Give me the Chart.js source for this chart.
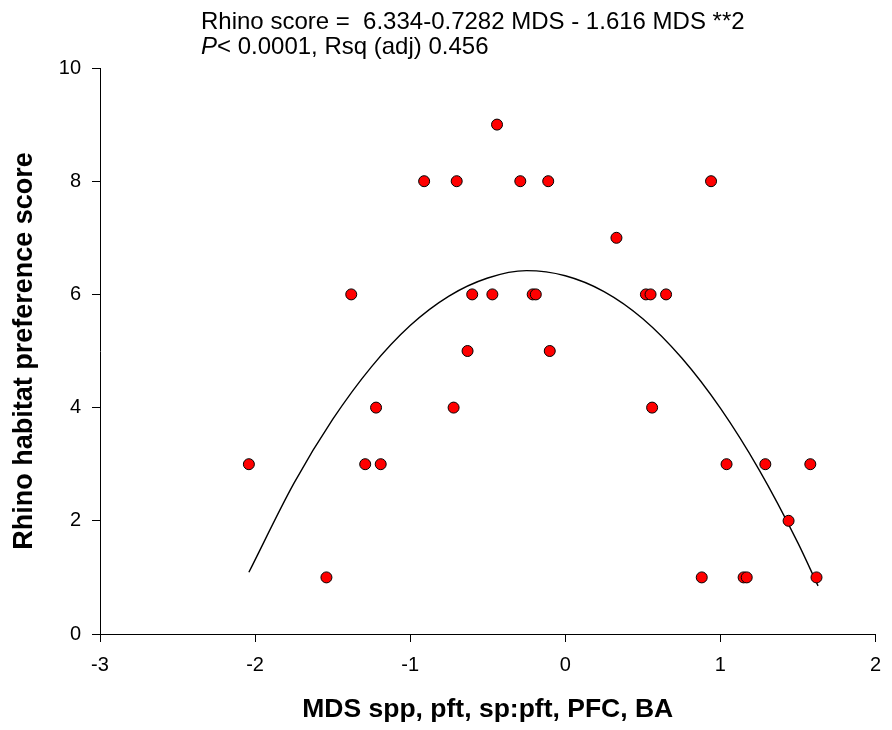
<!DOCTYPE html>
<html>
<head>
<meta charset="utf-8">
<script src="https://cdn.jsdelivr.net/npm/chart.js@4.4.1/dist/chart.umd.min.js"></script>
<style>
  body { margin: 0; background: #fff; }
</style>
</head>
<body>
<canvas id="myChart" width="892" height="730"></canvas>
<script>
// Observed plots: MDS score (x) and rhino habitat preference score (y)
let mdsScore = [-2.04, -1.54, -1.38, -1.29, -1.22, -1.19, -0.91, -0.72, -0.70, -0.63, -0.60,
                -0.47, -0.44, -0.29, -0.21, -0.19, -0.11, -0.10, 0.33, 0.52, 0.55, 0.56,
                0.65, 0.88, 0.94, 1.04, 1.15, 1.17, 1.29, 1.44, 1.58, 1.62];
let rhinoScore = [3, 1, 6, 3, 4, 3, 8, 4, 8, 5, 6,
                  6, 9, 8, 6, 6, 8, 5, 7, 6, 6, 4,
                  6, 1, 8, 3, 1, 1, 3, 2, 3, 1];

// Fitted curve
let curveX = [-2.04, -1.75, -1.5, -1.25, -1.0, -0.75, -0.5, -0.25, 0, 0.25, 0.5, 0.75, 1.0, 1.25, 1.5, 1.63];
let curveY = [1.09, 2.66, 3.79, 4.72, 5.45, 5.97, 6.29, 6.42, 6.33, 6.05, 5.57, 4.88, 3.99, 2.90, 1.61, 0.85];

// Axis ranges and titles
let xTicks = [-3, -2, -1, 0, 1, 2];
let yTicks = [0, 2, 4, 6, 8, 10];
let xTitle = 'MDS spp, pft, sp:pft, PFC, BA';
let yTitle = 'Rhino habitat preference score';

const FONT = '"Liberation Sans", Arial, Helvetica, sans-serif';

// Build point lists for the library
let points = mdsScore.map((x, i) => ({ x: x, y: rhinoScore[i] }));
let curve = curveX.map((x, i) => ({ x: x, y: curveY[i] }));

// Regression equation drawn above the plot
const equationText = {
    id: 'equationText',
    afterDraw(chart) {
        const c = chart.ctx;
        c.save();
        c.fillStyle = '#000';
        c.textBaseline = 'alphabetic';
        c.textAlign = 'left';
        c.font = '24px ' + FONT;
        c.fillText('Rhino score =  6.334-0.7282 MDS - 1.616 MDS **2', 201, 29);
        c.font = 'italic 24px ' + FONT;
        c.fillText('P', 201, 54);
        let w = c.measureText('P').width;
        c.font = '24px ' + FONT;
        c.fillText('< 0.0001, Rsq (adj) 0.456', 201 + w, 54);
        c.restore();
    }
};

let ctx = document.getElementById('myChart').getContext('2d');

const config = {
    type: 'scatter',
    data: {
        datasets: [{
            label: 'Observed',
            data: points,
            backgroundColor: '#ff0000',
            borderColor: '#000000',
            borderWidth: 1,
            pointRadius: 5.5,
            pointHoverRadius: 5.5,
            order: 1
        },
        {
            label: 'Fit',
            type: 'line',
            data: curve,
            borderColor: '#000000',
            borderWidth: 1.4,
            pointRadius: 0,
            fill: false,
            tension: 0.4,
            cubicInterpolationMode: 'monotone',
            order: 2
        }]
    },
    options: {
        responsive: false,
        animation: false,
        layout: { padding: { top: 68, right: 6, bottom: 0, left: 0 } },
        plugins: {
            legend: { display: false },
            tooltip: { enabled: false }
        },
        scales: {
            x: {
                type: 'linear',
                min: xTicks[0],
                max: xTicks[xTicks.length - 1],
                afterFit: (scale) => { scale.height = 96; },
                border: { display: true, color: '#000', width: 1 },
                grid: { drawOnChartArea: false, drawTicks: true, tickLength: 8, color: '#000' },
                ticks: { stepSize: 1, color: '#000', padding: 11, font: { family: FONT, size: 20 } },
                title: {
                    display: true,
                    text: xTitle,
                    color: '#000',
                    padding: { top: 0, bottom: 4 },
                    font: { family: FONT, size: 26.5, weight: 'bold' }
                }
            },
            y: {
                type: 'linear',
                min: yTicks[0],
                max: yTicks[yTicks.length - 1],
                afterFit: (scale) => { scale.width = 100; },
                border: { display: true, color: '#000', width: 1 },
                grid: { drawOnChartArea: false, drawTicks: true, tickLength: 8, color: '#000' },
                ticks: { stepSize: 2, color: '#000', padding: 11, font: { family: FONT, size: 20 } },
                title: {
                    display: true,
                    text: yTitle,
                    color: '#000',
                    padding: { top: 8, bottom: 0 },
                    font: { family: FONT, size: 27, weight: 'bold' }
                }
            }
        }
    },
    plugins: [equationText]
};

const theChart = new Chart(ctx, config);
</script>
</body>
</html>
